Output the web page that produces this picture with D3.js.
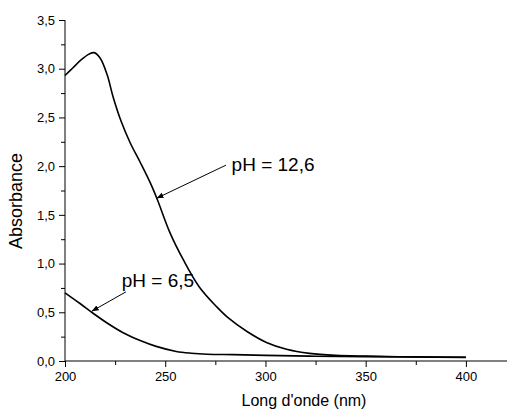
<!DOCTYPE html>
<html>
<head>
<meta charset="utf-8">
<script src="https://cdn.jsdelivr.net/npm/d3@7"></script>
<style>
html,body{margin:0;padding:0;background:#fff;}
svg{display:block;}
text{font-family:"Liberation Sans",Arial,sans-serif;fill:#000;}
</style>
</head>
<body>
<svg id="chart" width="507" height="411"></svg>
<script>
// ---- data ----
const wl126 = [200, 204, 208, 212, 214.5, 217.5, 221, 224, 228, 232.5, 237.5, 242.5, 246, 252.5, 259, 267, 275.5, 281, 291, 300.5, 310.5, 322, 335, 350, 375, 400];
const abs126 = [2.93, 3.01, 3.09, 3.15, 3.165, 3.11, 2.94, 2.71, 2.46, 2.24, 2.04, 1.83, 1.66, 1.31, 1.04, 0.76, 0.56, 0.45, 0.30, 0.19, 0.12, 0.078, 0.058, 0.05, 0.042, 0.037];
const wl65 = [200, 207.5, 214, 221, 229, 237.5, 245.5, 255.5, 263, 271, 284, 300, 322, 350, 400];
const abs65 = [0.70, 0.59, 0.49, 0.39, 0.29, 0.21, 0.15, 0.098, 0.08, 0.07, 0.065, 0.058, 0.05, 0.045, 0.038];
const xTicks = [200, 250, 300, 350, 400];
const xMinor = [225, 275, 325, 375];
const yTicks = [0, 0.5, 1.0, 1.5, 2.0, 2.5, 3.0, 3.5];
const yMinor = [0.25, 0.75, 1.25, 1.75, 2.25, 2.75, 3.25];
const labels = ["pH = 12,6", "pH = 6,5"];
const labelPos = [[283.1, 1.95], [228.3, 0.756]];
const arrowFrom = [[280.3, 2.01], [230.4, 0.71]];
const arrowTo = [[245.7, 1.67], [213.3, 0.51]];

// ---- layout ----
const svg = d3.select("#chart");
const x = d3.scaleLinear().domain([200, 420.5]).range([65, 507]);
const y = d3.scaleLinear().domain([0, 3.5]).range([361, 20]);
const fmt = d => d3.format(".1f")(d).replace(".", ",");

svg.append("defs").append("marker")
  .attr("id", "arr").attr("viewBox", "0 0 10 10")
  .attr("refX", 10).attr("refY", 5)
  .attr("markerWidth", 7).attr("markerHeight", 7)
  .attr("markerUnits", "userSpaceOnUse")
  .attr("orient", "auto")
  .append("path").attr("d", "M0,1 L10,5 L0,9 Z").attr("fill", "#000");

// axes
const gx = svg.append("g").attr("transform", `translate(0,${y(0)})`)
  .call(d3.axisBottom(x).tickValues(xTicks).tickSize(6).tickPadding(5).tickFormat(d3.format("d")));
svg.append("g").attr("transform", `translate(0,${y(0)})`)
  .call(d3.axisBottom(x).tickValues(xMinor).tickSize(4).tickFormat(""))
  .select(".domain").remove();
const gy = svg.append("g").attr("transform", `translate(${x(200)},0)`)
  .call(d3.axisLeft(y).tickValues(yTicks).tickSize(6).tickPadding(4).tickFormat(fmt));
svg.append("g").attr("transform", `translate(${x(200)},0)`)
  .call(d3.axisLeft(y).tickValues(yMinor).tickSize(4).tickFormat(""))
  .select(".domain").remove();
gx.select(".domain").attr("d", `M${x(200)},0H507`);
gy.select(".domain").attr("d", `M0,${y(3.5)}V${y(0)}`);
svg.selectAll(".tick text").style("font-size", "13px").style("font-family", "'Liberation Sans',Arial,sans-serif");
svg.selectAll(".domain, .tick line").attr("stroke", "#000").attr("stroke-width", 1);

// curves
const line = d3.line().x(d => x(d[0])).y(d => y(d[1])).curve(d3.curveCatmullRom.alpha(0.5));
const s126 = wl126.map((w, i) => [w, abs126[i]]);
const s65 = wl65.map((w, i) => [w, abs65[i]]);
[s126, s65].forEach(s => {
  svg.append("path").datum(s).attr("d", line)
    .attr("fill", "none").attr("stroke", "#000").attr("stroke-width", 1.6)
    .attr("stroke-linejoin", "round");
});

// annotations
labels.forEach((t, i) => {
  svg.append("line")
    .attr("x1", x(arrowFrom[i][0])).attr("y1", y(arrowFrom[i][1]))
    .attr("x2", x(arrowTo[i][0])).attr("y2", y(arrowTo[i][1]))
    .attr("stroke", "#000").attr("stroke-width", 1).attr("marker-end", "url(#arr)");
  svg.append("text").attr("x", x(labelPos[i][0])).attr("y", y(labelPos[i][1]))
    .style("font-size", "19px").text(t);
});

// axis titles
svg.append("text").attr("x", 304).attr("y", 406).attr("text-anchor", "middle")
  .style("font-size", "16px").text("Long d'onde (nm)");
svg.append("text").attr("transform", "translate(22,201) rotate(-90)").attr("text-anchor", "middle")
  .style("font-size", "18px").text("Absorbance");
</script>
</body>
</html>
